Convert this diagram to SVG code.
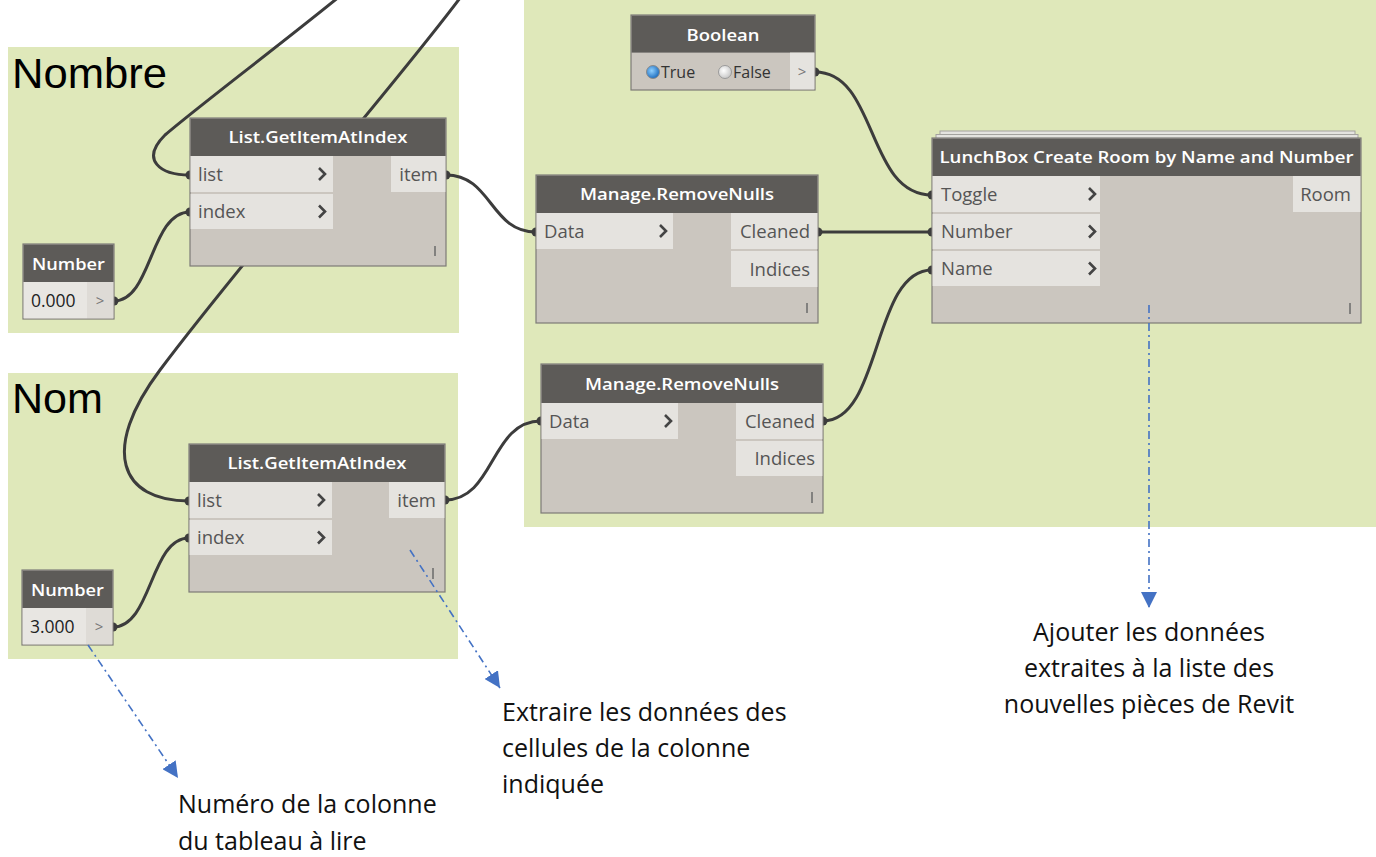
<svg xmlns="http://www.w3.org/2000/svg" width="1376" height="857" viewBox="0 0 1376 857">
<style>
.grp{fill:#dfe8ba}
.gtitle{font-family:"Liberation Sans",Arial,sans-serif;font-size:43px;fill:#000}
.nb{fill:#cbc6bf;stroke:#7d7b77;stroke-width:1.2}
.hd{fill:#5d5b58}
.pt{fill:#e5e3df}
.ttl{font-family:"Open Sans","Noto Sans",sans-serif;font-size:17px;font-weight:600;fill:#ffffff;text-anchor:middle}
.pl{font-family:"Open Sans","Noto Sans",sans-serif;font-size:18.5px;fill:#555555}
.val{font-family:"Open Sans","Noto Sans",sans-serif;font-size:17.5px;fill:#222}
.bv{font-family:"Open Sans","Noto Sans",sans-serif;font-size:16px;fill:#333}
.gt{font-family:"Open Sans","Noto Sans",sans-serif;font-size:15px;fill:#777;text-anchor:middle}
.chev{fill:none;stroke:#444;stroke-width:2.6;stroke-linejoin:miter}
.lace{stroke:#6a6a6a;stroke-width:1.5}
.wire{fill:none;stroke:#3c3c3c;stroke-width:3}
.dot{fill:#3c3c3c}
.ann{fill:none;stroke:#4472c4;stroke-width:1.6;stroke-dasharray:8 4 2 4}
.note{font-family:"Open Sans","Noto Sans",sans-serif;font-size:25px;fill:#111}
</style>
<defs>
<marker id="arr" viewBox="0 0 10 10" refX="10" refY="5" markerUnits="userSpaceOnUse" markerWidth="16" markerHeight="16" orient="auto">
<path d="M0,0 L10,5 L0,10 z" fill="#4472c4"/>
</marker>
<radialGradient id="rb" cx="0.4" cy="0.4" r="0.6">
<stop offset="0" stop-color="#8fd0ff"/><stop offset="1" stop-color="#1f6fc0"/>
</radialGradient>
<radialGradient id="rg" cx="0.4" cy="0.4" r="0.6">
<stop offset="0" stop-color="#ffffff"/><stop offset="1" stop-color="#c9c9c9"/>
</radialGradient>
</defs>
<rect width="1376" height="857" fill="#ffffff"/>

<g id="group-nombre">
<rect class="grp" x="8" y="47" width="451" height="286"/>
<text class="gtitle" x="12" y="88" textLength="155" lengthAdjust="spacingAndGlyphs">Nombre</text>
</g>
<g id="group-nom">
<rect class="grp" x="8" y="373" width="450" height="286"/>
<text class="gtitle" x="12" y="413" textLength="91" lengthAdjust="spacingAndGlyphs">Nom</text>
</g>
<g id="group-right">
<rect class="grp" x="524" y="0" width="852" height="527"/>
</g>

<g id="connectors">
<path class="wire" d="M345,-8 C280,45 200,105 165,135 C140,160 160,175 190,175"/>
<path class="wire" d="M466,-10 C400,80 250,250 160,370 C100,450 120,501 189,501"/>
<path class="wire" d="M114,301 C152,301 150,212 190,212"/>
<path class="wire" d="M446,175 C492,175 490,232 536,232"/>
<path class="wire" d="M818,232 L932,232"/>
<path class="wire" d="M815,72 C878,72 866,195 932,195"/>
<path class="wire" d="M823,421 C882,421 872,270 932,270"/>
<path class="wire" d="M445,500 C495,500 490,421 541,421"/>
<path class="wire" d="M113,627 C152,627 150,538 189,538"/>
<circle class="dot" cx="190" cy="175" r="4.5"/>
<circle class="dot" cx="189" cy="501" r="4.5"/>
<circle class="dot" cx="114" cy="301" r="4.5"/>
<circle class="dot" cx="190" cy="212" r="4.5"/>
<circle class="dot" cx="446" cy="175" r="4.5"/>
<circle class="dot" cx="536" cy="232" r="4.5"/>
<circle class="dot" cx="818" cy="232" r="4.5"/>
<circle class="dot" cx="932" cy="232" r="4.5"/>
<circle class="dot" cx="815" cy="72" r="4.5"/>
<circle class="dot" cx="932" cy="195" r="4.5"/>
<circle class="dot" cx="823" cy="421" r="4.5"/>
<circle class="dot" cx="932" cy="270" r="4.5"/>
<circle class="dot" cx="445" cy="500" r="4.5"/>
<circle class="dot" cx="541" cy="421" r="4.5"/>
<circle class="dot" cx="113" cy="627" r="4.5"/>
<circle class="dot" cx="189" cy="538" r="4.5"/>
</g>

<g id="node-boolean">
<rect class="nb" x="631" y="15" width="184" height="75"/>
<rect class="hd" x="631.6" y="15.6" width="182.8" height="37"/>
<text class="ttl" x="723" y="40.5" textLength="73" lengthAdjust="spacingAndGlyphs">Boolean</text>
<rect class="pt" x="790" y="52.6" width="24.4" height="36.8"/>
<text class="gt" x="802" y="77">&gt;</text>
<circle cx="653" cy="72" r="6.5" fill="url(#rb)" stroke="#8a8a8a" stroke-width="1"/>
<text class="bv" x="661" y="78">True</text>
<circle cx="725" cy="72" r="6.5" fill="url(#rg)" stroke="#9a9a9a" stroke-width="1"/>
<text class="bv" x="733" y="78">False</text>
</g>

<g id="node-list-1">
<rect class="nb" x="190" y="118" width="256" height="148"/>
<rect class="hd" x="190.6" y="118.6" width="254.8" height="37.4"/>
<text class="ttl" x="318" y="143" textLength="179" lengthAdjust="spacingAndGlyphs">List.GetItemAtIndex</text>
<rect class="pt" x="190.6" y="156" width="142.4" height="36"/>
<rect class="pt" x="190.6" y="194" width="142.4" height="35"/>
<rect class="pt" x="391" y="156" width="54.4" height="36"/>
<text class="pl" x="198" y="181">list</text>
<text class="pl" x="198" y="218">index</text>
<text class="pl" x="438" y="181" text-anchor="end">item</text>
<path class="chev" d="M319,168 L325,174 L319,180"/>
<path class="chev" d="M319,205.5 L325,211.5 L319,217.5"/>
<line class="lace" x1="435" y1="246" x2="435" y2="256"/>
</g>

<g id="node-number-1">
<rect class="nb" x="23" y="244" width="91" height="75"/>
<rect class="hd" x="23.6" y="244.6" width="89.8" height="37.4"/>
<text class="ttl" x="68.5" y="270" textLength="73" lengthAdjust="spacingAndGlyphs">Number</text>
<rect x="23.6" y="282" width="63.4" height="36.4" fill="#e8e6e2"/>
<rect x="87" y="282" width="26.4" height="36.4" fill="#dedbd6"/>
<text class="val" x="31" y="307">0.000</text>
<text class="gt" x="100" y="306">&gt;</text>
</g>

<g id="node-list-2">
<rect class="nb" x="189" y="444" width="256" height="148"/>
<rect class="hd" x="189.6" y="444.6" width="254.8" height="37.4"/>
<text class="ttl" x="317" y="469" textLength="179" lengthAdjust="spacingAndGlyphs">List.GetItemAtIndex</text>
<rect class="pt" x="189.6" y="482" width="142.4" height="36"/>
<rect class="pt" x="189.6" y="520" width="142.4" height="35"/>
<rect class="pt" x="389" y="482" width="55.4" height="36"/>
<text class="pl" x="197" y="507">list</text>
<text class="pl" x="197" y="544">index</text>
<text class="pl" x="436" y="507" text-anchor="end">item</text>
<path class="chev" d="M318,494 L324,500 L318,506"/>
<path class="chev" d="M318,531.5 L324,537.5 L318,543.5"/>
<line class="lace" x1="433" y1="568" x2="433" y2="579"/>
</g>

<g id="node-number-2">
<rect class="nb" x="22" y="570" width="91" height="75"/>
<rect class="hd" x="22.6" y="570.6" width="89.8" height="37.4"/>
<text class="ttl" x="67.5" y="596" textLength="73" lengthAdjust="spacingAndGlyphs">Number</text>
<rect x="22.6" y="608" width="63.4" height="36.4" fill="#e8e6e2"/>
<rect x="86" y="608" width="26.4" height="36.4" fill="#dedbd6"/>
<text class="val" x="30" y="633">3.000</text>
<text class="gt" x="99" y="632">&gt;</text>
</g>

<g id="node-removenulls-1">
<rect class="nb" x="536" y="175" width="282" height="148"/>
<rect class="hd" x="536.6" y="175.6" width="280.8" height="37.4"/>
<text class="ttl" x="677" y="200" textLength="194" lengthAdjust="spacingAndGlyphs">Manage.RemoveNulls</text>
<rect class="pt" x="536.6" y="213" width="136.4" height="36"/>
<rect class="pt" x="731" y="213" width="86.4" height="36"/>
<rect class="pt" x="731" y="251" width="86.4" height="36"/>
<text class="pl" x="544" y="238">Data</text>
<text class="pl" x="810" y="238" text-anchor="end">Cleaned</text>
<text class="pl" x="810" y="276" text-anchor="end">Indices</text>
<path class="chev" d="M660,225 L666,231 L660,237"/>
<line class="lace" x1="807" y1="303" x2="807" y2="313"/>
</g>

<g id="node-removenulls-2">
<rect class="nb" x="541" y="364" width="282" height="149"/>
<rect class="hd" x="541.6" y="364.6" width="280.8" height="38.4"/>
<text class="ttl" x="682" y="390" textLength="194" lengthAdjust="spacingAndGlyphs">Manage.RemoveNulls</text>
<rect class="pt" x="541.6" y="403" width="136.4" height="36"/>
<rect class="pt" x="736" y="403" width="86.4" height="36"/>
<rect class="pt" x="736" y="441" width="86.4" height="35"/>
<text class="pl" x="549" y="428">Data</text>
<text class="pl" x="815" y="428" text-anchor="end">Cleaned</text>
<text class="pl" x="815" y="465" text-anchor="end">Indices</text>
<path class="chev" d="M665,415 L671,421 L665,427"/>
<line class="lace" x1="812" y1="492" x2="812" y2="503"/>
</g>

<g id="node-lunchbox">
<rect x="940" y="131" width="415" height="8" fill="#e4e3df" stroke="#a3a29e" stroke-width="1"/>
<rect x="936" y="134.5" width="422" height="6" fill="#e4e3df" stroke="#a3a29e" stroke-width="1"/>
<rect class="nb" x="932" y="138" width="429" height="185"/>
<rect class="hd" x="932.6" y="138.6" width="427.8" height="37.4"/>
<text class="ttl" x="1146.5" y="163" textLength="414" lengthAdjust="spacingAndGlyphs">LunchBox Create Room by Name and Number</text>
<rect class="pt" x="932.6" y="176" width="167.4" height="36"/>
<rect class="pt" x="932.6" y="214" width="167.4" height="35"/>
<rect class="pt" x="932.6" y="251" width="167.4" height="35"/>
<rect class="pt" x="1293" y="176" width="67.4" height="36"/>
<text class="pl" x="941" y="201">Toggle</text>
<text class="pl" x="941" y="238">Number</text>
<text class="pl" x="941" y="275">Name</text>
<text class="pl" x="1351" y="201" text-anchor="end">Room</text>
<path class="chev" d="M1089,188 L1095,194 L1089,200"/>
<path class="chev" d="M1089,225.5 L1095,231.5 L1089,237.5"/>
<path class="chev" d="M1089,262.5 L1095,268.5 L1089,274.5"/>
<line class="lace" x1="1350" y1="303" x2="1350" y2="314"/>
</g>

<g id="annotations">
<path class="ann" d="M88,645 L178,778" marker-end="url(#arr)"/>
<path class="ann" d="M410,550 L500,688" marker-end="url(#arr)"/>
<path class="ann" d="M1149,305 L1149,608" marker-end="url(#arr)"/>
</g>

<g id="note-colonne">
<text class="note" x="178" y="813">Numéro de la colonne</text>
<text class="note" x="178" y="850">du tableau à lire</text>
</g>
<g id="note-extraire">
<text class="note" x="502" y="721">Extraire les données des</text>
<text class="note" x="502" y="757">cellules de la colonne</text>
<text class="note" x="502" y="793">indiquée</text>
</g>
<g id="note-ajouter">
<text class="note" x="1149" y="641" text-anchor="middle">Ajouter les données</text>
<text class="note" x="1149" y="677" text-anchor="middle">extraites à la liste des</text>
<text class="note" x="1149" y="713" text-anchor="middle">nouvelles pièces de Revit</text>
</g>
</svg>
